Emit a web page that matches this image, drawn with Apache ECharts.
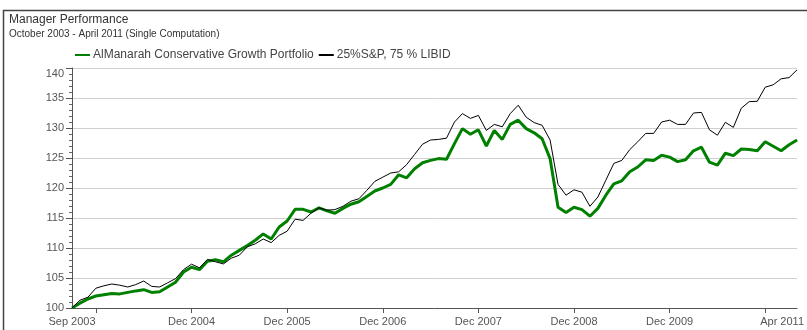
<!DOCTYPE html>
<html>
<head>
<meta charset="utf-8">
<title>Manager Performance</title>
<script src="https://cdn.jsdelivr.net/npm/echarts@6/dist/echarts.min.js"></script>
<style>
  html, body { margin: 0; padding: 0; background: #fff; }
  #chart { width: 807px; height: 330px; }
</style>
</head>
<body>
<div id="chart"></div>
<script>
// Month-end observation dates
const months = [
  'Sep 2003', 'Oct 2003', 'Nov 2003', 'Dec 2003',
  'Jan 2004', 'Feb 2004', 'Mar 2004', 'Apr 2004', 'May 2004', 'Jun 2004', 'Jul 2004', 'Aug 2004', 'Sep 2004', 'Oct 2004', 'Nov 2004', 'Dec 2004',
  'Jan 2005', 'Feb 2005', 'Mar 2005', 'Apr 2005', 'May 2005', 'Jun 2005', 'Jul 2005', 'Aug 2005', 'Sep 2005', 'Oct 2005', 'Nov 2005', 'Dec 2005',
  'Jan 2006', 'Feb 2006', 'Mar 2006', 'Apr 2006', 'May 2006', 'Jun 2006', 'Jul 2006', 'Aug 2006', 'Sep 2006', 'Oct 2006', 'Nov 2006', 'Dec 2006',
  'Jan 2007', 'Feb 2007', 'Mar 2007', 'Apr 2007', 'May 2007', 'Jun 2007', 'Jul 2007', 'Aug 2007', 'Sep 2007', 'Oct 2007', 'Nov 2007', 'Dec 2007',
  'Jan 2008', 'Feb 2008', 'Mar 2008', 'Apr 2008', 'May 2008', 'Jun 2008', 'Jul 2008', 'Aug 2008', 'Sep 2008', 'Oct 2008', 'Nov 2008', 'Dec 2008',
  'Jan 2009', 'Feb 2009', 'Mar 2009', 'Apr 2009', 'May 2009', 'Jun 2009', 'Jul 2009', 'Aug 2009', 'Sep 2009', 'Oct 2009', 'Nov 2009', 'Dec 2009',
  'Jan 2010', 'Feb 2010', 'Mar 2010', 'Apr 2010', 'May 2010', 'Jun 2010', 'Jul 2010', 'Aug 2010', 'Sep 2010', 'Oct 2010', 'Nov 2010', 'Dec 2010',
  'Jan 2011', 'Feb 2011', 'Mar 2011', 'Apr 2011'
];

// Growth of 100, AlManarah Conservative Growth Portfolio
const portfolio = [
  100.0, 100.8, 101.5, 102.0,
  102.2, 102.4, 102.35, 102.6, 102.85, 103.05, 102.6, 102.7, 103.5, 104.3, 106.0, 106.8,
  106.4, 107.8, 108.05, 107.7, 108.8, 109.6, 110.4, 111.3, 112.35, 111.5, 113.5, 114.5,
  116.45, 116.45, 116.0, 116.7, 116.2, 115.8, 116.6, 117.3, 117.7, 118.6, 119.5, 120.0,
  120.6, 122.2, 121.7, 123.2, 124.2, 124.6, 124.9, 124.8, 127.4, 129.9, 128.95, 129.7,
  127.0, 129.6, 128.1, 130.6, 131.3, 129.9, 129.2, 128.2, 124.9, 116.8, 115.9, 116.8,
  116.4, 115.3, 116.6, 118.8, 120.7, 121.2, 122.7, 123.5, 124.7, 124.6, 125.45, 125.15,
  124.4, 124.7, 126.2, 126.8, 124.3, 123.8, 125.8, 125.4, 126.5, 126.4, 126.2, 127.7,
  126.95, 126.2, 127.2, 128.0
];

// Growth of 100, 25% S&P / 75% LIBID benchmark
const benchmark = [
  100.0, 101.3, 101.8, 103.3,
  103.7, 104.0, 103.8, 103.5, 103.9, 104.5, 103.6, 103.5, 104.2, 104.9, 106.4, 107.3,
  106.7, 108.1, 107.7, 107.35, 108.3, 108.8, 110.2, 110.7, 111.5, 110.9, 112.1, 112.8,
  114.8, 114.6, 115.8, 116.7, 116.3, 116.4, 116.95, 117.8, 118.2, 119.6, 121.1, 121.8,
  122.5, 122.7, 123.9, 125.6, 127.3, 128.0, 128.1, 128.3, 131.0, 132.4, 131.6, 132.1,
  129.6, 130.6, 130.2, 132.4, 133.8, 131.8, 130.9, 130.45, 128.0, 120.6, 118.8, 119.7,
  119.3, 116.95, 118.5, 121.3, 124.1, 124.6, 126.4, 127.7, 129.1, 129.1, 131.0, 131.3,
  130.6, 130.6, 132.5, 132.6, 129.7, 128.8, 130.95, 130.1, 133.3, 134.4, 134.45, 136.8,
  137.2, 138.2, 138.4, 139.7
];

// Axis tick positions and labelled dates
const tickMonths = ['Dec 2003', 'Dec 2004', 'Dec 2005', 'Dec 2006', 'Dec 2007', 'Dec 2008', 'Dec 2009', 'Dec 2010'];
const labelMonths = ['Sep 2003', 'Dec 2004', 'Dec 2005', 'Dec 2006', 'Dec 2007', 'Dec 2008', 'Dec 2009', 'Apr 2011'];

const seriesNames = ['AlManarah Conservative Growth Portfolio', '25%S&P, 75 % LIBID'];

const FONT = '"Liberation Sans", Arial, sans-serif';
const lastMonth = months[months.length - 1];

const chart = echarts.init(document.getElementById('chart'), null, { renderer: 'canvas' });

chart.setOption({
  animation: false,
  backgroundColor: '#fff',
  textStyle: { fontFamily: FONT },
  title: {
    text: 'Manager Performance',
    subtext: 'October 2003 - April 2011 (Single Computation)',
    left: 4,
    top: 9,
    itemGap: 3,
    textStyle: { fontFamily: FONT, fontSize: 12, fontWeight: 'normal', color: '#333' },
    subtextStyle: { fontFamily: FONT, fontSize: 10, color: '#333' }
  },
  legend: {
    left: 70,
    top: 44,
    itemWidth: 15,
    itemHeight: 2,
    itemGap: 5,
    icon: 'rect',
    textStyle: { fontFamily: FONT, fontSize: 12, color: '#444', padding: [0, 0, 0, -2] },
    data: seriesNames
  },
  graphic: [{
    type: 'polyline',
    silent: true,
    shape: { points: [[3.5, 330], [3.5, 10.5], [807, 10.5]] },
    style: { stroke: '#444', lineWidth: 1.5, fill: null }
  }],
  grid: { left: 72, right: 7, top: 68, bottom: 22, containLabel: false },
  xAxis: {
    type: 'category',
    data: months,
    boundaryGap: false,
    axisLine: { lineStyle: { color: '#555', width: 1 } },
    axisTick: {
      interval: (i, v) => tickMonths.includes(v),
      length: 5,
      lineStyle: { color: '#555' }
    },
    axisLabel: {
      interval: (i, v) => labelMonths.includes(v),
      color: '#555',
      fontSize: 11,
      fontFamily: FONT,
      margin: 8,
      formatter: v => (v === lastMonth ? '{e|' + v + '}' : v),
      rich: { e: { fontSize: 11, fontFamily: FONT, color: '#555', padding: [0, 30, 0, 0] } }
    },
    splitLine: { show: false }
  },
  yAxis: {
    type: 'value',
    min: 100,
    max: 140,
    interval: 5,
    axisLine: { show: true, lineStyle: { color: '#555', width: 1 } },
    axisTick: { show: true, length: 6, lineStyle: { color: '#555' } },
    minorTick: { show: true, splitNumber: 5, length: 3, lineStyle: { color: '#666' } },
    axisLabel: {
      color: '#555',
      fontSize: 11,
      fontFamily: FONT,
      margin: 8,
      formatter: v => (v === 140 ? '{t|' + v + '}' : String(v)),
      rich: { t: { fontSize: 11, fontFamily: FONT, color: '#555', padding: [12, 0, 0, 0] } }
    },
    splitLine: { show: true, lineStyle: { color: '#d0d0d0', width: 1 } }
  },
  series: [
    {
      name: seriesNames[0],
      type: 'line',
      data: portfolio,
      symbol: 'none',
      color: '#008000',
      lineStyle: { color: '#008000', width: 3 },
      z: 2
    },
    {
      name: seriesNames[1],
      type: 'line',
      data: benchmark,
      symbol: 'none',
      color: '#000',
      lineStyle: { color: '#000', width: 1 },
      z: 3
    }
  ]
});
</script>
</body>
</html>
